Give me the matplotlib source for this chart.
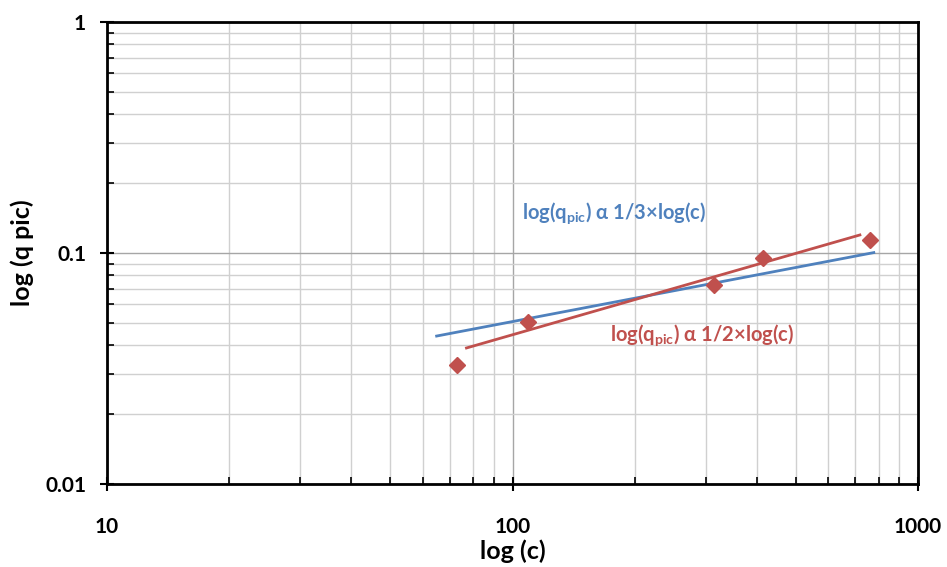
import matplotlib.pyplot as plt
import numpy as np
from matplotlib.ticker import LogLocator, FixedLocator, FixedFormatter, NullFormatter

# points mesures
c_points = [73, 109, 314, 415, 762]
q_points = [0.0327, 0.0503, 0.0727, 0.0951, 0.114]

# droites de tendance (extremites)
c_blue = [65, 778]
q_blue = [0.0437, 0.1004]
c_red = [77, 719]
q_red = [0.0388, 0.1197]

blue = "#4F81BD"
red = "#C0504D"

plt.rcParams['font.family'] = ['Lato', 'DejaVu Sans']

W, H = 947, 567
fig = plt.figure(figsize=(W/100, H/100), dpi=100)
ax = fig.add_axes([107/W, 1-484/H, (918-107)/W, (484-22)/H])

ax.set_xscale('log')
ax.set_yscale('log')
ax.set_xlim(10, 1000)
ax.set_ylim(0.01, 1)

ax.plot(c_blue, q_blue, color=blue, lw=2, zorder=3)
ax.plot(c_red, q_red, color=red, lw=2, zorder=3)
ax.plot(c_points, q_points, linestyle='none', marker='D', ms=8, color=red, zorder=4)

# annotations (position en pixels de la figure)
fig.text(522/W, 1-213/H, r"log(q$_{\mathregular{pic}}$) α 1/3×log(c)", color=blue,
         fontsize=14.5, fontweight='bold', va='center', ha='left')
fig.text(610/W, 1-335/H, r"log(q$_{\mathregular{pic}}$) α 1/2×log(c)", color=red,
         fontsize=14.5, fontweight='bold', va='center', ha='left')

ax.xaxis.set_major_locator(FixedLocator([10, 100, 1000]))
ax.xaxis.set_major_formatter(FixedFormatter(['10', '100', '1000']))
ax.yaxis.set_major_locator(FixedLocator([0.01, 0.1, 1]))
ax.yaxis.set_major_formatter(FixedFormatter(['0.01', '0.1', '1']))
ax.xaxis.set_minor_locator(LogLocator(base=10, subs=np.arange(2, 10)))
ax.yaxis.set_minor_locator(LogLocator(base=10, subs=np.arange(2, 10)))
ax.xaxis.set_minor_formatter(NullFormatter())
ax.yaxis.set_minor_formatter(NullFormatter())

ax.grid(which='major', color='#a6a6a6', lw=1)
ax.grid(which='minor', color='#d0d0d0', lw=1)
ax.set_axisbelow(True)

for s in ax.spines.values():
    s.set_linewidth(2)
    s.set_color('black')

ax.tick_params(which='major', direction='inout', length=10, width=1.5, labelsize=15)
ax.tick_params(axis='x', which='major', pad=19)
ax.tick_params(axis='y', which='major', pad=10)
ax.tick_params(which='minor', direction='in', length=5, width=1.2)
ax.tick_params(top=False, right=False, which='both')
for lab in ax.get_xticklabels() + ax.get_yticklabels():
    lab.set_fontweight('bold')

ax.set_xlabel('log (c)', fontsize=18, fontweight='bold', va='center')
ax.set_ylabel('log (q pic)', fontsize=18, fontweight='bold', va='center')
ax.xaxis.set_label_coords(0.5, (484-551)/462)
ax.yaxis.set_label_coords((22-107)/811, 0.5)

fig.savefig('out.png', dpi=100)
